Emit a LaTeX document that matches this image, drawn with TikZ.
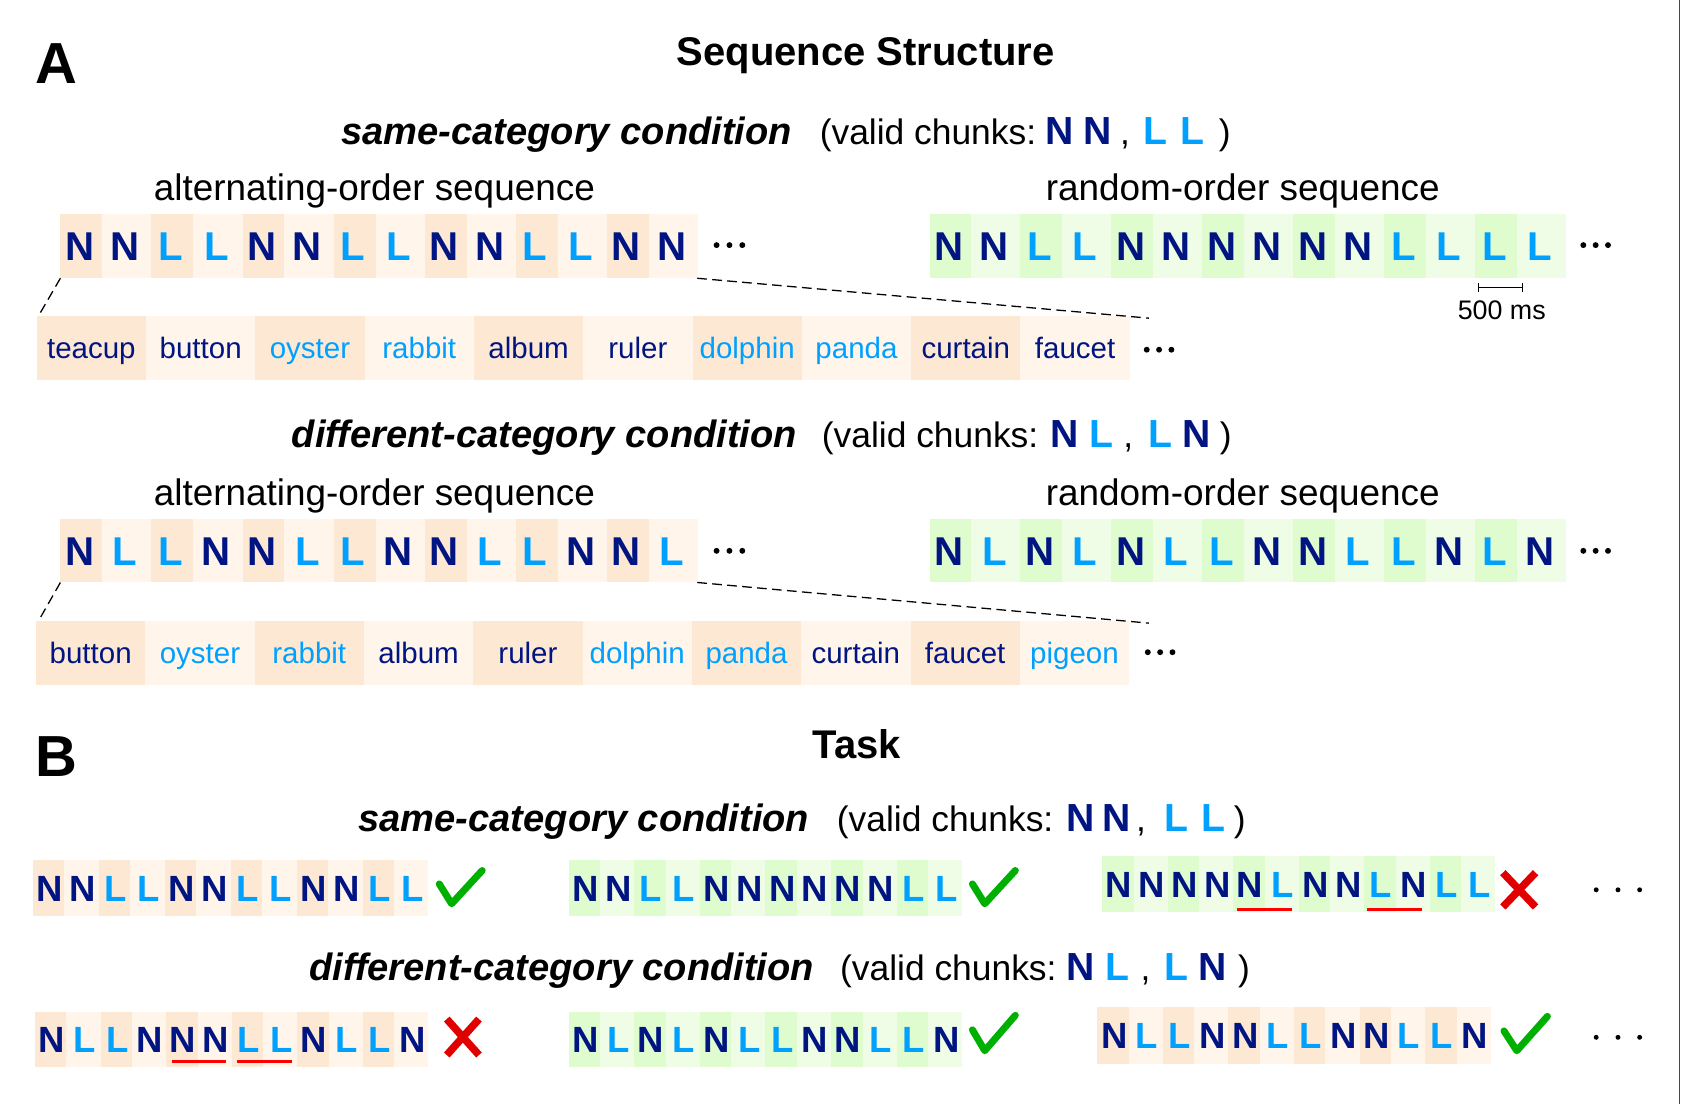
\documentclass[tikz,border=0pt]{standalone}
\usepackage{fontspec}
\setmainfont{Liberation Sans}
\usetikzlibrary{arrows.meta}
\definecolor{nblue}{RGB}{0,20,130}
\definecolor{lblue}{RGB}{0,160,255}
\definecolor{peachD}{RGB}{253,233,211}
\definecolor{peachL}{RGB}{255,245,235}
\definecolor{greenD}{RGB}{222,252,206}
\definecolor{greenL}{RGB}{240,253,230}
\definecolor{okgreen}{RGB}{0,176,0}
\definecolor{badred}{RGB}{224,0,0}
\definecolor{edgegray}{RGB}{70,70,70}
\tikzset{
 lettA/.style={inner sep=0pt, anchor=base, font=\bfseries\fontsize{37.5}{40}\selectfont},
 lettB/.style={inner sep=0pt, anchor=base, font=\bfseries\fontsize{34}{36}\selectfont},
 word/.style={inner sep=0pt, anchor=base, font=\fontsize{27.5}{30}\selectfont},
 cond/.style={inner sep=0pt, anchor=base west, font=\bfseries\itshape\fontsize{35.5}{38}\selectfont},
 valid/.style={inner sep=0pt, anchor=base west, font=\fontsize{33}{36}\selectfont},
 chunk/.style={inner sep=0pt, anchor=base west, font=\bfseries\fontsize{36.5}{38}\selectfont},
 seqlabel/.style={inner sep=0pt, anchor=base, font=\fontsize{34.4}{36}\selectfont},
 panel/.style={inner sep=0pt, anchor=base west, font=\bfseries\fontsize{54}{58}\selectfont},
 title/.style={inner sep=0pt, anchor=base, font=\bfseries\fontsize{37.3}{40}\selectfont},
 msl/.style={inner sep=0pt, anchor=base, font=\fontsize{25}{28}\selectfont},
 zoomline/.style={dash pattern=on 9pt off 5pt, line width=1.2pt},
 okmark/.style={draw=okgreen, line width=6.5pt, line cap=round, line join=round},
 badmark/.style={draw=badred, line width=7pt},
 ulred/.style={draw=red, line width=3pt},
 bigdot/.style={fill=black, circle, inner sep=0pt, minimum size=5.5pt},
 smalldot/.style={fill=black, circle, inner sep=0pt, minimum size=4.6pt}
}
% #1 name, #2 x0, #3 ytop, #4 ybot, #5 pair width, #6 colour family, #7 letters
\newcommand\LSeq[7]{%
  \foreach \ch [count=\i from 0] in {#7} {%
    \pgfmathtruncatemacro\pp{floor(\i/2)}%
    \pgfmathtruncatemacro\od{mod(\i,2)}%
    \ifnum\od=0
      \pgfmathsetmacro\xa{#2+\pp*#5}%
      \pgfmathsetmacro\xb{\xa+\dfr*#5}%
      \def\cc{#6D}%
    \else
      \pgfmathsetmacro\xa{#2+\pp*#5+\dfr*#5}%
      \pgfmathsetmacro\xb{#2+(\pp+1)*#5}%
      \def\cc{#6L}%
    \fi
    \fill[fill=\cc] (\xa,#3) rectangle (\xb,#4);
    \pgfmathsetmacro\xc{(\xa+\xb)/2+\loff}%
    \pgfmathsetmacro\yc{(#3+#4)/2+\lbase}%
    \if\ch N\def\lc{nblue}\else\def\lc{lblue}\fi
    \node[curlet, text=\lc] (#1-\i) at (\xc,\yc) {\ch};
  }%
}
% #1 name, #2 x0, #3 ytop, #4 ybot, #5 list word/cat
\newcommand\WSeq[5]{%
  \foreach \w/\k [count=\i from 0] in {#5} {%
    \pgfmathtruncatemacro\od{mod(\i,2)}%
    \ifnum\od=0 \def\cc{peachD}\else\def\cc{peachL}\fi
    \pgfmathsetmacro\xa{#2+\i*101.9}%
    \pgfmathsetmacro\xb{\xa+101.9}%
    \fill[fill=\cc] (\xa,#3) rectangle (\xb,#4);
    \if\k N\def\lc{nblue}\else\def\lc{lblue}\fi
    \pgfmathsetmacro\xc{(\xa+\xb)/2}%
    \pgfmathsetmacro\yc{(#3+#4)/2+9.9}%
    \node[word, text=\lc] (#1-\i) at (\xc,\yc) {\w};
  }%
}
\begin{document}
\begin{tikzpicture}[x=1pt,y=-1pt]
\useasboundingbox (0,0) rectangle (1568,1029.2);
\fill[white] (0,0) rectangle (1568,1029.2);
\draw[edgegray, line width=1.3pt] (1565.8,0) -- (1565.8,1029.2);

% ---------------- Panel A ----------------
\node[panel] (pA) at (33,77.7) {A};
\node[title] (tA) at (807,60.6) {Sequence Structure};

\node[cond] (condA1) at (318,135) {same-category condition};
\node[valid] (valA1) at (764,135) {(valid chunks:};
\node[chunk, text=nblue] (chA1a) at (974.4,135) {N};
\node[chunk, text=nblue] (chA1b) at (1009.4,135) {N};
\node[valid] (chA1c) at (1044,135) {,};
\node[chunk, text=lblue] (chA1d) at (1065.4,135) {L};
\node[chunk, text=lblue] (chA1e) at (1100.4,135) {L};
\node[valid] (chA1f) at (1136,135) {)};

\node[seqlabel] (altA1) at (349,187) {alternating-order sequence};
\node[seqlabel] (rndA1) at (1158.5,187) {random-order sequence};

\tikzset{curlet/.style={lettA}}
\def\dfr{0.46}\def\loff{-1.5}\def\lbase{13.4}
\LSeq{sa}{56.3}{199.8}{259.4}{84.9}{peach}{N,N,L,L,N,N,L,L,N,N,L,L,N,N}
\LSeq{sr}{866.5}{199.8}{259.4}{84.8}{green}{N,N,L,L,N,N,N,N,N,N,L,L,L,L}
\node[bigdot] (dsa1) at (668,228.5) {};
\node[bigdot] (dsa2) at (680,228.5) {};
\node[bigdot] (dsa3) at (692,228.5) {};
\node[bigdot] (dsr1) at (1476,228.5) {};
\node[bigdot] (dsr2) at (1487.5,228.5) {};
\node[bigdot] (dsr3) at (1499,228.5) {};

% 500 ms scale bar
\coordinate (msL) at (1378,268);
\coordinate (msR) at (1420,268);
\draw[line width=1pt, {Bar[width=8pt]}-{Bar[width=8pt]}] (msL) -- (msR);
\node[msl] (ms) at (1400,298) {500 ms};

% word row 1
\WSeq{wa}{34.2}{294.5}{354}{teacup/N,button/N,oyster/L,rabbit/L,album/N,ruler/N,dolphin/L,panda/L,curtain/N,faucet/N}
\node[bigdot] (dwa1) at (1069,326) {};
\node[bigdot] (dwa2) at (1080.5,326) {};
\node[bigdot] (dwa3) at (1092,326) {};

\coordinate (za1) at (56.3,259.4);
\coordinate (za2) at (36.4,293.6);
\coordinate (za3) at (650,259.4);
\coordinate (za4) at (1071,296.6);
\draw[zoomline] (za1) -- (za2);
\draw[zoomline] (za3) -- (za4);

% different-category
\node[cond] (condA2) at (272,417) {different-category condition};
\node[valid] (valA2) at (766,417) {(valid chunks:};
\node[chunk, text=nblue] (chA2a) at (979.4,417) {N};
\node[chunk, text=lblue] (chA2b) at (1015.4,417) {L};
\node[valid] (chA2c) at (1047,417) {,};
\node[chunk, text=lblue] (chA2d) at (1070.4,417) {L};
\node[chunk, text=nblue] (chA2e) at (1102.4,417) {N};
\node[valid] (chA2f) at (1137,417) {)};

\node[seqlabel] (altA2) at (349,470.9) {alternating-order sequence};
\node[seqlabel] (rndA2) at (1158.5,470.9) {random-order sequence};

\LSeq{da}{56.3}{483.7}{543}{84.9}{peach}{N,L,L,N,N,L,L,N,N,L,L,N,N,L}
\LSeq{dr}{866.5}{483.7}{543}{84.8}{green}{N,L,N,L,N,L,L,N,N,L,L,N,L,N}
\node[bigdot] (dda1) at (668,513.5) {};
\node[bigdot] (dda2) at (680,513.5) {};
\node[bigdot] (dda3) at (692,513.5) {};
\node[bigdot] (ddr1) at (1476,513.5) {};
\node[bigdot] (ddr2) at (1487.5,513.5) {};
\node[bigdot] (ddr3) at (1499,513.5) {};

\WSeq{wb}{33.6}{578.8}{638.3}{button/N,oyster/L,rabbit/L,album/N,ruler/N,dolphin/L,panda/L,curtain/N,faucet/N,pigeon/L}
\node[bigdot] (dwb1) at (1070,608) {};
\node[bigdot] (dwb2) at (1081.5,608) {};
\node[bigdot] (dwb3) at (1093,608) {};

\coordinate (zb1) at (56.3,543);
\coordinate (zb2) at (36.4,577.9);
\coordinate (zb3) at (650,543);
\coordinate (zb4) at (1071,580.9);
\draw[zoomline] (zb1) -- (zb2);
\draw[zoomline] (zb3) -- (zb4);

% ---------------- Panel B ----------------
\node[panel] (pB) at (33,724) {B};
\node[title] (tB) at (799,707) {Task};

\node[cond] (condB1) at (334,775) {same-category condition};
\node[valid] (valB1) at (780,775) {(valid chunks:};
\node[chunk, text=nblue] (chB1a) at (994.4,775) {N};
\node[chunk, text=nblue] (chB1b) at (1027.4,775) {N};
\node[valid] (chB1c) at (1059,775) {,};
\node[chunk, text=lblue] (chB1d) at (1085.4,775) {L};
\node[chunk, text=lblue] (chB1e) at (1119.4,775) {L};
\node[valid] (chB1f) at (1150,775) {)};

\tikzset{curlet/.style={lettB}}
\def\dfr{0.48}\def\loff{1}\def\lbase{12.5}
\LSeq{b1a}{30.6}{801.5}{853.7}{61.47}{peach}{N,N,L,L,N,N,L,L,N,N,L,L}
\LSeq{b1b}{530}{801.5}{853.7}{61.17}{green}{N,N,L,L,N,N,N,N,N,N,L,L}
\LSeq{b1c}{1027.5}{798}{850.6}{61.08}{green}{N,N,N,N,N,L,N,N,L,N,L,L}

\coordinate (ok1a) at (409.5,824);
\coordinate (ok1b) at (421,842.5);
\coordinate (ok1c) at (449.5,811.5);
\draw[okmark] (ok1a) -- (ok1b) -- (ok1c);
\coordinate (ok2a) at (906.5,824);
\coordinate (ok2b) at (918,842.5);
\coordinate (ok2c) at (946.5,811.5);
\draw[okmark] (ok2a) -- (ok2b) -- (ok2c);

\coordinate (u1a) at (1153,847.5);
\coordinate (u1b) at (1204,847.5);
\coordinate (u1c) at (1274.5,847.5);
\coordinate (u1d) at (1325.3,847.5);
\draw[ulred] (u1a) -- (u1b);
\draw[ulred] (u1c) -- (u1d);

\coordinate (x1a) at (1401,813.5);
\coordinate (x1b) at (1431.5,845.5);
\coordinate (x1c) at (1431.5,813.5);
\coordinate (x1d) at (1401,845.5);
\draw[badmark] (x1a) -- (x1b);
\draw[badmark] (x1c) -- (x1d);

\node[smalldot] (db11) at (1488,829.5) {};
\node[smalldot] (db12) at (1508.3,829.5) {};
\node[smalldot] (db13) at (1528.5,829.5) {};

\node[cond] (condB2) at (288,914.5) {different-category condition};
\node[valid] (valB2) at (783,914.5) {(valid chunks:};
\node[chunk, text=nblue] (chB2a) at (994.4,914.5) {N};
\node[chunk, text=lblue] (chB2b) at (1030.4,914.5) {L};
\node[valid] (chB2c) at (1063,914.5) {,};
\node[chunk, text=lblue] (chB2d) at (1085.4,914.5) {L};
\node[chunk, text=nblue] (chB2e) at (1117.4,914.5) {N};
\node[valid] (chB2f) at (1154,914.5) {)};

\LSeq{b2a}{32.6}{943}{995}{61.13}{peach}{N,L,L,N,N,N,L,L,N,L,L,N}
\LSeq{b2b}{530}{943}{995}{61.17}{green}{N,L,N,L,N,L,L,N,N,L,L,N}
\LSeq{b2c}{1023}{939}{991.7}{61.1}{peach}{N,L,L,N,N,L,L,N,N,L,L,N}

\coordinate (u2a) at (160,989.5);
\coordinate (u2b) at (210.6,989.5);
\coordinate (u2c) at (221,989.5);
\coordinate (u2d) at (272,989.5);
\draw[ulred] (u2a) -- (u2b);
\draw[ulred] (u2c) -- (u2d);

\coordinate (x2a) at (416.5,950);
\coordinate (x2b) at (446.5,983.5);
\coordinate (x2c) at (446.5,950);
\coordinate (x2d) at (416.5,983.5);
\draw[badmark] (x2a) -- (x2b);
\draw[badmark] (x2c) -- (x2d);

\coordinate (ok3a) at (906.5,960);
\coordinate (ok3b) at (918,979.5);
\coordinate (ok3c) at (946.5,946.5);
\draw[okmark] (ok3a) -- (ok3b) -- (ok3c);
\coordinate (ok4a) at (1402,961);
\coordinate (ok4b) at (1414,979.5);
\coordinate (ok4c) at (1442.5,947.5);
\draw[okmark] (ok4a) -- (ok4b) -- (ok4c);

\node[smalldot] (db21) at (1488,967) {};
\node[smalldot] (db22) at (1508.3,967) {};
\node[smalldot] (db23) at (1528.5,967) {};
\end{tikzpicture}
\end{document}
